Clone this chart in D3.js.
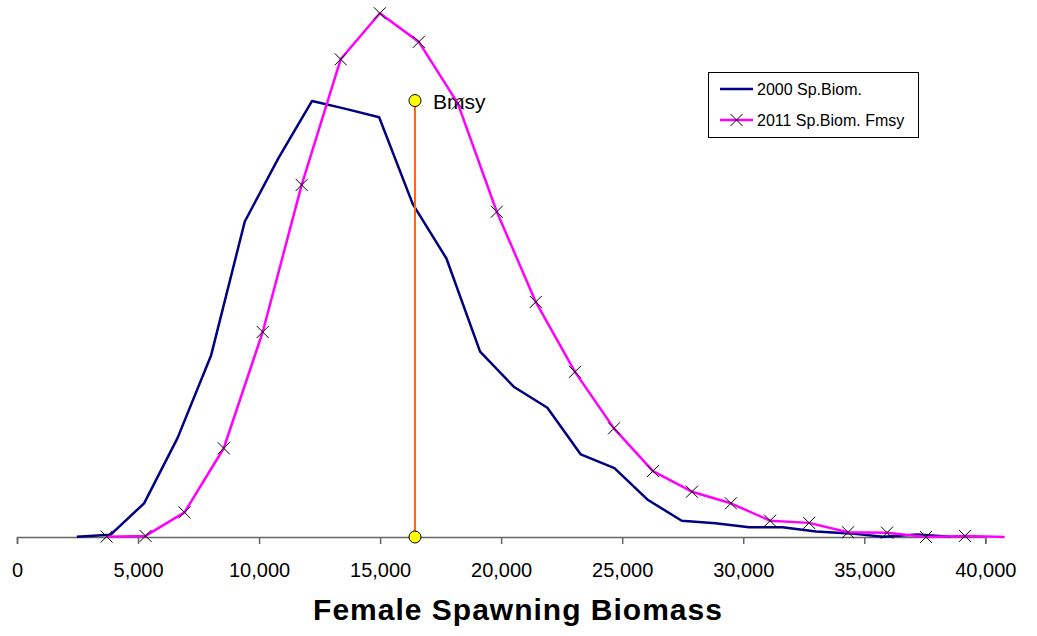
<!DOCTYPE html>
<html>
<head>
<meta charset="utf-8">
<script src="https://cdn.jsdelivr.net/npm/d3@7"></script>
<style>
  body { margin: 0; background: #fff; }
  text { font-family: Arial, "Liberation Sans", sans-serif; }
</style>
</head>
<body>
<div id="chart"></div>
<script>
// 2000 spawning biomass distribution (% per bin)
var biom2000X = [2470, 3860, 5250, 6630, 8020, 9410, 10800, 12190, 13580, 14960,
  16350, 17740, 19130, 20520, 21910, 23290, 24680, 26070, 27460, 28850,
  30240, 31620, 33010, 34400, 35790, 37180, 38560];
var biom2000Y = [0.01, 0.06, 0.93, 2.73, 5.02, 8.71, 10.46, 12.04, 11.82, 11.59,
  9.19, 7.69, 5.12, 4.15, 3.57, 2.28, 1.90, 1.02, 0.45, 0.38,
  0.27, 0.27, 0.15, 0.10, 0.01, 0.07, 0.01];

// 2011 spawning biomass at Fmsy
var biom2011X = [3700, 5310, 6920, 8540, 10150, 11760, 13370, 14990, 16600, 18210,
  19820, 21430, 23050, 24660, 26270, 27880, 29490, 31110, 32720, 34330,
  35940, 37550, 39160, 40800];
var biom2011Y = [0.01, 0.03, 0.68, 2.45, 5.66, 9.72, 13.19, 14.46, 13.67, 11.97,
  8.98, 6.49, 4.56, 3.00, 1.82, 1.25, 0.93, 0.45, 0.39, 0.13,
  0.12, 0.00, 0.03, 0.00];

var bmsyX = [16440, 16440];
var bmsyY = [0, 12.05];

var xTicks = [0, 5000, 10000, 15000, 20000, 25000, 30000, 35000, 40000];
var seriesNames = ["2000 Sp.Biom.", "2011 Sp.Biom. Fmsy"];

var width = 1037;
var height = 636;

var svg = d3.select("#chart")
  .append("svg")
  .attr("width", width)
  .attr("height", height);

var x = d3.scaleLinear().domain([0, 40000]).range([17, 985.3]);
var y = d3.scaleLinear().domain([0, 15]).range([537, -6.3]);

var data2000 = biom2000X.map(function(d, i) { return [d, biom2000Y[i]]; });
var data2011 = biom2011X.map(function(d, i) { return [d, biom2011Y[i]]; });

var line = d3.line()
  .x(function(d) { return x(d[0]); })
  .y(function(d) { return y(d[1]); });

// x axis
var axis = svg.append("g")
  .attr("transform", "translate(0," + y(0) + ")")
  .call(d3.axisBottom(x)
    .tickValues(xTicks)
    .tickSize(7)
    .tickSizeOuter(7)
    .tickFormat(d3.format(",")));
axis.attr("font-size", 20).attr("font-family", "Arial, 'Liberation Sans', sans-serif");
axis.select(".domain").attr("stroke", "#666").attr("stroke-width", 1.5);
axis.selectAll(".tick line").attr("stroke", "#666").attr("stroke-width", 1.5);
axis.selectAll(".tick text")
  .attr("y", 40)
  .attr("dy", 0)
  .attr("fill", "#000")
  .style("font-size", "20px");

svg.append("text")
  .attr("x", 518)
  .attr("y", 620)
  .attr("text-anchor", "middle")
  .style("font-size", "30px")
  .style("font-weight", "bold")
  .style("letter-spacing", "1px")
  .text("Female Spawning Biomass");

// Bmsy label
svg.append("text")
  .attr("x", x(bmsyX[1]) + 18)
  .attr("y", y(bmsyY[1]) + 8)
  .style("font-size", "21px")
  .text("Bmsy");

svg.append("path")
  .datum(data2000)
  .attr("d", line)
  .attr("fill", "none")
  .attr("stroke", "#000080")
  .attr("stroke-width", 2.5)
  .attr("stroke-linejoin", "round");

// Bmsy vertical
svg.append("line")
  .attr("x1", x(bmsyX[0])).attr("x2", x(bmsyX[1]))
  .attr("y1", y(bmsyY[0])).attr("y2", y(bmsyY[1]))
  .attr("stroke", "#FF6600")
  .attr("stroke-width", 2);

svg.selectAll(".bmsy")
  .data(bmsyY)
  .enter()
  .append("circle")
  .attr("class", "bmsy")
  .attr("cx", function(d, i) { return x(bmsyX[i]); })
  .attr("cy", function(d) { return y(d); })
  .attr("r", 6)
  .attr("fill", "#FFFF00")
  .attr("stroke", "#000")
  .attr("stroke-width", 1);

svg.append("path")
  .datum(data2011)
  .attr("d", line)
  .attr("fill", "none")
  .attr("stroke", "#FF00FF")
  .attr("stroke-width", 2.5)
  .attr("stroke-linejoin", "round");

function cross(sel, s) {
  sel.append("path")
    .attr("d", "M" + (-s) + "," + (-s) + "L" + s + "," + s + "M" + (-s) + "," + s + "L" + s + "," + (-s))
    .attr("stroke", "#000")
    .attr("stroke-width", 1)
    .attr("fill", "none");
}

var marks = svg.selectAll(".mark")
  .data(data2011.filter(function(d) { return d[0] <= 40000; }))
  .enter()
  .append("g")
  .attr("class", "mark")
  .attr("transform", function(d) { return "translate(" + x(d[0]) + "," + y(d[1]) + ")"; });
cross(marks, 6);

// legend
var legend = svg.append("g");
legend.append("rect")
  .attr("x", 708.5).attr("y", 72.5)
  .attr("width", 210).attr("height", 65)
  .attr("fill", "#fff")
  .attr("stroke", "#000")
  .attr("stroke-width", 1);
var legColors = ["#000080", "#FF00FF"];
seriesNames.forEach(function(name, i) {
  var ly = 89 + i * 31;
  legend.append("line")
    .attr("x1", 720).attr("x2", 753)
    .attr("y1", ly).attr("y2", ly)
    .attr("stroke", legColors[i])
    .attr("stroke-width", 2.5);
  if (i === 1) {
    cross(legend.append("g").attr("transform", "translate(736.5," + ly + ")"), 6);
  }
  legend.append("text")
    .attr("x", 757)
    .attr("y", ly + 6)
    .style("font-size", "16px")
    .text(name);
});
</script>
</body>
</html>
